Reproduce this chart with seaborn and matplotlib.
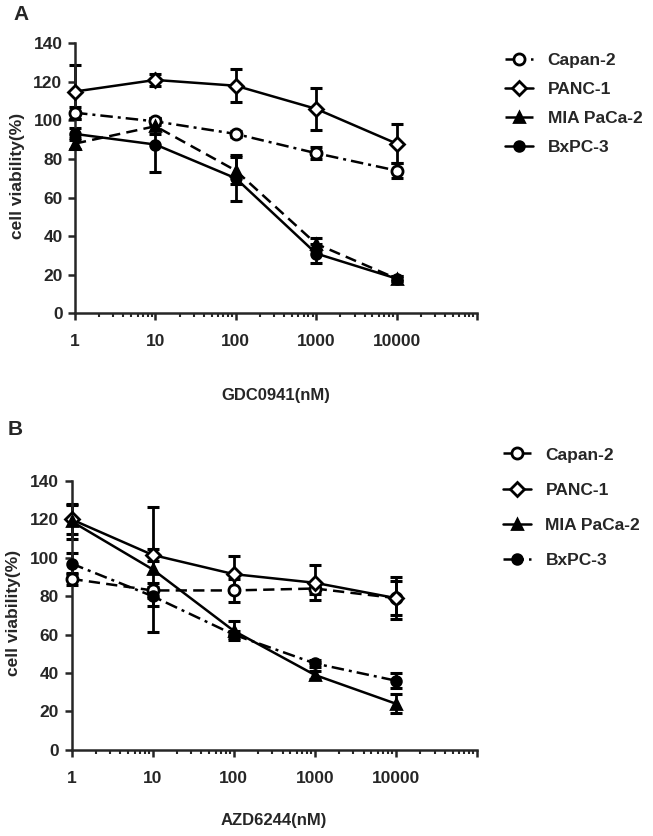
import numpy as np
import pandas as pd
import matplotlib
matplotlib.use("Agg")
import matplotlib.pyplot as plt
from matplotlib.ticker import LogLocator, NullFormatter, FixedLocator
import seaborn as sns

# doses (nM)
dose = [1, 10, 100, 1000, 10000]
cell_lines = ["Capan-2", "PANC-1", "MIA PaCa-2", "BxPC-3"]

# panel A: GDC0941
capan2_a = [104, 99.5, 93, 83, 74]
capan2_a_err = [3, 2, 1.5, 3, 4]
panc1_a = [115, 121, 118, 106, 88]
panc1_a_err = [14, 3, 8.5, 11, 10]
mia_a = [88, 97, 74, 36, 18]
mia_a_err = [3, 4, 7, 3, 1.5]
bxpc3_a = [93, 87.5, 70, 31, 18]
bxpc3_a_err = [3, 14, 12, 5, 1.5]

# panel B: AZD6244
capan2_b = [89, 83, 83, 84, 79]
capan2_b_err = [3, 4, 6, 3, 9]
panc1_b = [120, 101.5, 91.5, 87, 79]
panc1_b_err = [7.5, 3, 9.5, 9, 11]
mia_b = [119, 94, 62, 39, 24]
mia_b_err = [9, 32.5, 5, 2, 5]
bxpc3_b = [97, 80, 60, 45, 36]
bxpc3_b_err = [5.5, 5, 2, 2, 4]

yticks = [0, 20, 40, 60, 80, 100, 120, 140]
xticks = [1, 10, 100, 1000, 10000, 100000]
xticklabels = ["1", "10", "100", "1000", "10000", ""]

sns.set_style("ticks")
plt.rcParams['font.family'] = ['Liberation Sans', 'DejaVu Sans']

DASHDOT = (0, (5, 2, 1.2, 2))
DASHED = (0, (4.5, 2.5))
markers = {
    "Capan-2": dict(marker="o", markerfacecolor="white", markersize=8),
    "PANC-1": dict(marker="D", markerfacecolor="white", markersize=7.5),
    "MIA PaCa-2": dict(marker="^", markerfacecolor="black", markersize=7.5),
    "BxPC-3": dict(marker="o", markerfacecolor="black", markersize=7),
}
styles_a = {"Capan-2": DASHDOT, "PANC-1": "-", "MIA PaCa-2": DASHED, "BxPC-3": "-"}
styles_b = {"Capan-2": DASHED, "PANC-1": "-", "MIA PaCa-2": "-", "BxPC-3": DASHDOT}


def draw_panel(ax, values, errors, styles, xlabel):
    ax.set_xscale("log")
    for name in cell_lines:
        df = pd.DataFrame({"dose": dose, "viability": values[name]})
        ax.errorbar(dose, values[name], yerr=errors[name], fmt="none",
                    ecolor="black", elinewidth=2, capsize=4.5, capthick=2.2,
                    zorder=2, clip_on=False)
        sns.lineplot(data=df, x="dose", y="viability", ax=ax, color="black",
                     linestyle=styles[name], lw=1.8, label=name,
                     markeredgecolor="black", markeredgewidth=2,
                     zorder=3, clip_on=False, **markers[name])
    ax.set_xlim(1, 100000)
    ax.set_ylim(0, 140)
    ax.xaxis.set_major_locator(FixedLocator(xticks))
    ax.set_xticklabels(xticklabels)
    ax.xaxis.set_minor_locator(LogLocator(base=10, subs=np.arange(2, 10)))
    ax.xaxis.set_minor_formatter(NullFormatter())
    ax.set_yticks(yticks)
    sns.despine(ax=ax)
    for side in ["left", "bottom"]:
        ax.spines[side].set_linewidth(1.8)
    ax.tick_params(axis="both", which="major", width=1.8, length=5,
                   labelsize=12.5)
    ax.tick_params(axis="x", which="major", pad=10)
    ax.tick_params(axis="y", which="major", pad=4)
    ax.tick_params(axis="x", which="minor", width=1.5, length=3)
    for lab in ax.get_xticklabels() + ax.get_yticklabels():
        lab.set_fontweight("bold")
    ax.set_xlabel(xlabel, fontsize=12, fontweight="bold")
    ax.set_ylabel("cell viability(%)", fontsize=12.5, fontweight="bold")
    ax.yaxis.set_label_coords(-0.125, 0.51)


fig = plt.figure(figsize=(6.53, 8.36), dpi=100)
axA = fig.add_axes([75 / 653, (836 - 313.3) / 836, 402 / 653, 270 / 836])
axB = fig.add_axes([71.5 / 653, (836 - 749.8) / 836, 405.5 / 653, 268.8 / 836])

legend_font = {"size": 12.5, "weight": "bold"}

draw_panel(axA,
           {"Capan-2": capan2_a, "PANC-1": panc1_a, "MIA PaCa-2": mia_a, "BxPC-3": bxpc3_a},
           {"Capan-2": capan2_a_err, "PANC-1": panc1_a_err, "MIA PaCa-2": mia_a_err, "BxPC-3": bxpc3_a_err},
           styles_a, "GDC0941(nM)")
axA.xaxis.set_label_coords(0.5, -0.275)
axA.legend(loc="upper left", bbox_to_anchor=(1.07, 0.965), frameon=False,
           prop=legend_font, borderpad=0, borderaxespad=0, handlelength=1.6,
           handletextpad=0.85, labelspacing=0.8)

draw_panel(axB,
           {"Capan-2": capan2_b, "PANC-1": panc1_b, "MIA PaCa-2": mia_b, "BxPC-3": bxpc3_b},
           {"Capan-2": capan2_b_err, "PANC-1": panc1_b_err, "MIA PaCa-2": mia_b_err, "BxPC-3": bxpc3_b_err},
           styles_b, "AZD6244(nM)")
axB.xaxis.set_label_coords(0.5, -0.235)
axB.legend(loc="upper left", bbox_to_anchor=(1.064, 1.125), frameon=False,
           prop=legend_font, borderpad=0, borderaxespad=0, handlelength=1.6,
           handletextpad=0.85, labelspacing=1.15)

fig.text(21 / 653, 1 - 15 / 836, "A", fontsize=15, fontweight="bold",
         ha="center", va="center")
fig.text(15 / 653, 1 - 429 / 836, "B", fontsize=15, fontweight="bold",
         ha="center", va="center")

fig.savefig("out.png", dpi=100)
